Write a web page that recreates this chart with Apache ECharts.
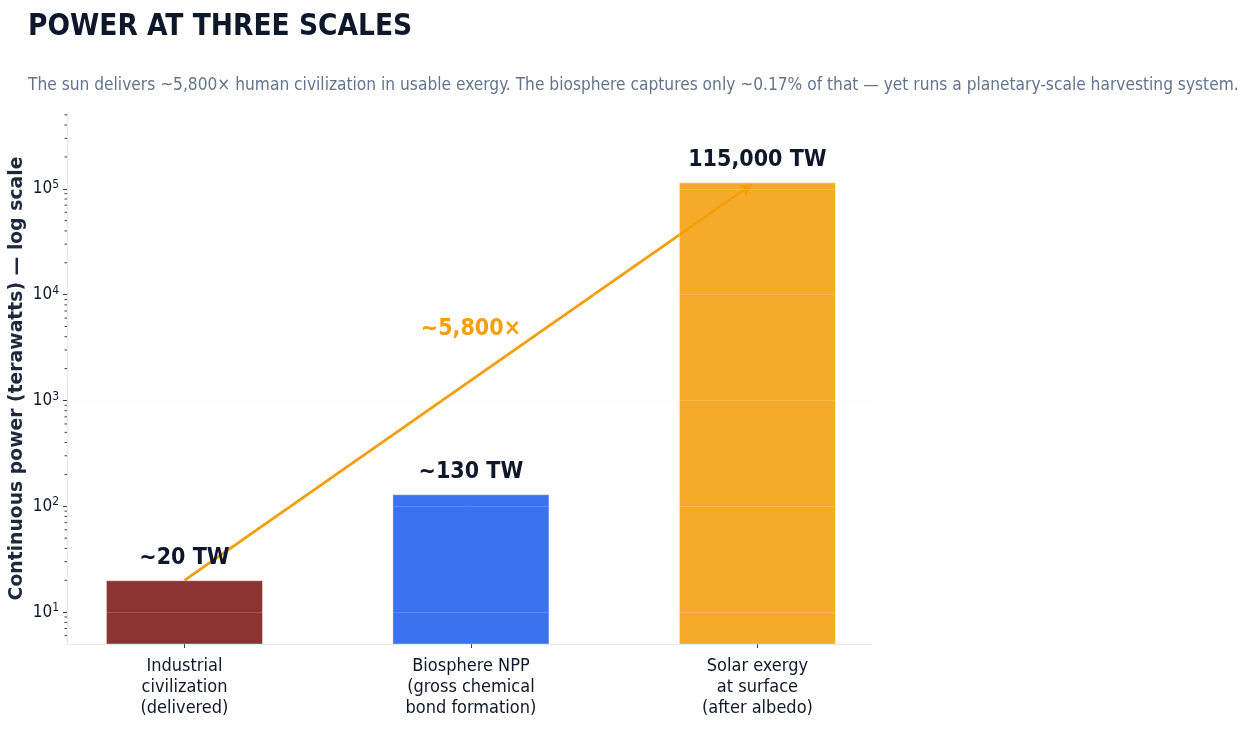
<!DOCTYPE html>
<html><head><meta charset="utf-8">
<script src="https://cdn.jsdelivr.net/npm/echarts@6/dist/echarts.min.js"></script>
<style>html,body{margin:0;padding:0;background:#fff}#c{width:1249px;height:729px}</style>
</head><body><div id="c"></div>
<script>
const categories = ['Industrial\ncivilization\n(delivered)', 'Biosphere NPP\n(gross chemical\nbond formation)', 'Solar exergy\nat surface\n(after albedo)'];
const values = [20, 130, 115000];
const valueLabels = ['~20 TW', '~130 TW', '115,000 TW'];
const barColors = ['rgba(128,30,30,0.9)', 'rgba(37,99,235,0.9)', 'rgba(245,158,11,0.88)'];
const majorTicks = [10, 100, 1000, 10000, 100000];
const minorTicks = [6, 7, 8, 9, 20, 30, 40, 50, 60, 70, 80, 90, 200, 300, 400, 500, 600, 700, 800, 900,
  2000, 3000, 4000, 5000, 6000, 7000, 8000, 9000, 20000, 30000, 40000, 50000, 60000, 70000, 80000, 90000,
  200000, 300000, 400000, 500000];
const arrowFrom = [0, 20];
const arrowTo = [1.98, 110000];
const ratioLabel = '~5,800×';
const ratioPos = [1, 4700];
const yMin = 5, yMax = 520000;

const cond = '"DejaVu Sans Condensed", "DejaVu Sans", sans-serif';
const chart = echarts.init(document.getElementById('c'), null, {renderer: 'canvas'});
const supMap = {1: '1', 2: '2', 3: '3', 4: '4', 5: '5'};
chart.setOption({
  animation: false,
  backgroundColor: '#ffffff',
  title: [
    {text: 'POWER AT THREE SCALES', left: 28, top: 12, padding: 0,
     textStyle: {fontFamily: cond, fontWeight: 'bold', fontSize: 29.5, color: '#0f172a'}},
    {text: 'The sun delivers ~5,800× human civilization in usable exergy. The biosphere captures only ~0.17% of that — yet runs a planetary-scale harvesting system.',
     left: 28, top: 77, padding: 0, textStyle: {fontFamily: cond, fontWeight: 'normal', fontSize: 17.2, color: '#64748b'}}
  ],
  grid: {left: 67, right: 377, top: 113, bottom: 85, containLabel: false, outerBoundsMode: 'none'},
  xAxis: {
    type: 'value', min: -0.41, max: 2.4,
    axisLine: {show: true, onZero: false, lineStyle: {color: '#e2e8f0', width: 1}},
    axisTick: {show: true, customValues: [0, 1, 2], length: 4, lineStyle: {color: '#334155'}},
    axisLabel: {show: true, customValues: [0, 1, 2], margin: 12, lineHeight: 21,
      fontFamily: cond, fontSize: 18, color: '#0f172a',
      formatter: v => categories[Math.round(v)]},
    splitLine: {show: false}
  },
  yAxis: {
    type: 'log', logBase: 10, min: yMin, max: yMax,
    name: 'Continuous power (terawatts) — log scale',
    nameLocation: 'middle', nameGap: 40, nameRotate: 90, nameMoveOverlap: false,
    nameTextStyle: {fontFamily: '"DejaVu Sans", sans-serif', fontWeight: 'bold', fontSize: 18.8, color: '#1e293b'},
    axisLine: {show: true, onZero: false, lineStyle: {color: '#e2e8f0', width: 1}},
    axisTick: {show: true, customValues: majorTicks, length: 4, lineStyle: {color: '#334155'}},
    axisLabel: {show: true, customValues: majorTicks, margin: 8,
      formatter: v => '{b|10}{s|' + supMap[Math.round(Math.log10(v))] + '}',
      rich: {b: {fontFamily: cond, fontSize: 17, color: '#0f172a'},
             s: {fontFamily: cond, fontSize: 12, color: '#0f172a', verticalAlign: 'top', padding: [0, 0, 8, 0]}}},
    splitLine: {show: false}
  },
  series: [
    {
      type: 'line', data: [], z: 1, silent: true,
      markLine: {
        z: 1, silent: true, symbol: ['none', 'arrow'], symbolSize: [10, 12],
        label: {show: false},
        lineStyle: {color: '#f59e0b', width: 2.8, type: 'solid'},
        data: [[{coord: arrowFrom}, {coord: arrowTo}]]
      }
    },
    {
      type: 'bar', z: 3, barWidth: 157,
      data: values.map((v, i) => ({value: [i, v], itemStyle: {color: barColors[i], borderColor: 'rgba(255,255,255,0.35)', borderWidth: 1}})),
      label: {show: true, position: 'top', distance: 11,
        formatter: p => valueLabels[p.dataIndex],
        fontFamily: cond, fontWeight: 'bold', fontSize: 23, color: '#0f172a'}
    },
    {
      type: 'line', data: [], z: 4, silent: true,
      markLine: {
        z: 4, silent: true, symbol: ['none', 'none'], label: {show: false},
        lineStyle: {color: 'rgba(241,245,249,0.7)', width: 1, type: 'solid', opacity: 0.25},
        data: majorTicks.map(v => ({yAxis: v}))
      }
    },
    {
      type: 'custom', z: 5, silent: true, clip: false,
      data: minorTicks.map(v => [-0.41, v]),
      renderItem: (params, api) => {
        const p = api.coord([api.value(0), api.value(1)]);
        return {type: 'line', shape: {x1: p[0] - 2.5, y1: p[1], x2: p[0], y2: p[1]},
                style: {stroke: '#334155', lineWidth: 1}};
      }
    },
    {
      type: 'scatter', z: 6, symbolSize: 0, silent: true,
      itemStyle: {opacity: 1},
      data: [ratioPos],
      label: {show: true, position: 'inside', formatter: ratioLabel,
        fontFamily: cond, fontWeight: 'bold', fontSize: 23, color: '#f59e0b'}
    }
  ]
});
</script></body></html>
